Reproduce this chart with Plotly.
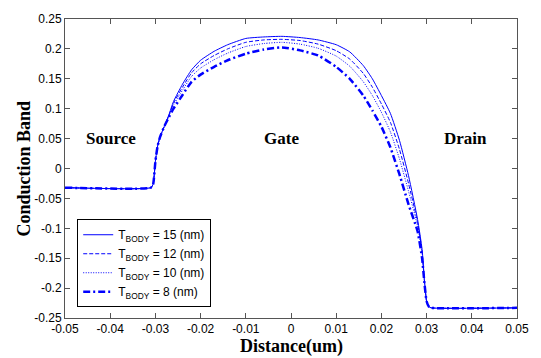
import plotly.graph_objects as go

# Shared x positions (um)
x_um = [-0.05, -0.031, -0.0305, -0.030, -0.0295, -0.029, -0.028, -0.027, -0.026,
        -0.024, -0.022, -0.020, -0.017, -0.014, -0.010, -0.006, -0.002, 0.002,
        0.006, 0.010, 0.013, 0.016, 0.018, 0.020, 0.022, 0.024, 0.026, 0.028,
        0.029, 0.0295, 0.030, 0.0305, 0.031, 0.05]

cb_15nm = [-0.032, -0.032, -0.026, 0.012, 0.038, 0.052, 0.071, 0.090, 0.112,
           0.141, 0.165, 0.181, 0.196, 0.207, 0.2175, 0.220, 0.221, 0.219,
           0.215, 0.207, 0.195, 0.172, 0.150, 0.122, 0.092, 0.047, -0.012, -0.085,
           -0.135, -0.185, -0.222, -0.231, -0.233, -0.233]

cb_12nm = [-0.032, -0.032, -0.026, 0.012, 0.038, 0.052, 0.071, 0.089, 0.109,
           0.136, 0.160, 0.175, 0.189, 0.200, 0.211, 0.215, 0.216, 0.214,
           0.208, 0.197, 0.183, 0.159, 0.136, 0.108, 0.077, 0.032, -0.025, -0.090,
           -0.139, -0.186, -0.222, -0.231, -0.233, -0.233]

cb_10nm = [-0.032, -0.032, -0.026, 0.012, 0.038, 0.052, 0.071, 0.088, 0.106,
           0.131, 0.154, 0.168, 0.182, 0.193, 0.204, 0.209, 0.211, 0.208,
           0.201, 0.188, 0.171, 0.145, 0.122, 0.094, 0.061, 0.016, -0.038, -0.096,
           -0.143, -0.188, -0.222, -0.231, -0.233, -0.233]

cb_8nm = [-0.032, -0.032, -0.026, 0.012, 0.038, 0.052, 0.071, 0.086, 0.100,
          0.123, 0.145, 0.157, 0.170, 0.181, 0.192, 0.199, 0.2025, 0.1975,
          0.189, 0.170, 0.150, 0.122, 0.097, 0.070, 0.035, -0.010, -0.060, -0.105,
          -0.150, -0.190, -0.222, -0.231, -0.233, -0.233]

series_names = ["T<sub>BODY</sub> = 15 (nm)", "T<sub>BODY</sub> = 12 (nm)",
                "T<sub>BODY</sub> = 10 (nm)", "T<sub>BODY</sub> = 8 (nm)"]

x_tickvals = [-0.05, -0.04, -0.03, -0.02, -0.01, 0, 0.01, 0.02, 0.03, 0.04, 0.05]
x_ticktext = ["-0.05", "-0.04", "-0.03", "-0.02", "-0.01", "0", "0.01", "0.02", "0.03", "0.04", "0.05"]
y_tickvals = [-0.25, -0.2, -0.15, -0.1, -0.05, 0, 0.05, 0.1, 0.15, 0.2, 0.25]
y_ticktext = ["-0.25", "-0.2", "-0.15", "-0.1", "-0.05", "0", "0.05", "0.1", "0.15", "0.2", "0.25"]

region_labels = ["Source", "Gate", "Drain"]
region_x = [-0.0399, -0.0022, 0.0386]
region_y = [0.050, 0.050, 0.050]

x_title = "Distance(um)"
y_title = "Conduction Band"

blue = "rgb(0,0,255)"
styles = [
    dict(width=1.0, dash="solid"),
    dict(width=1.0, dash="4px,2px"),
    dict(width=1.0, dash="1px,1.5px"),
    dict(width=2.5, dash="7px,3px,2px,3px"),
]

fig = go.Figure()
for name, ys, st in zip(series_names, [cb_15nm, cb_12nm, cb_10nm, cb_8nm], styles):
    fig.add_trace(go.Scatter(x=x_um, y=ys, mode="lines", name=name,
                             line=dict(color=blue, width=st["width"], dash=st["dash"],
                                       shape="spline", smoothing=0.5)))

for t, xx, yy in zip(region_labels, region_x, region_y):
    fig.add_annotation(x=xx, y=yy, text="<b>" + t + "</b>", showarrow=False,
                       font=dict(family="Liberation Serif", size=17, color="black"))

title_font = dict(family="Liberation Serif", size=18, color="black")
fig.add_annotation(xref="paper", yref="paper", x=0.5, y=0, yanchor="top",
                   yshift=-17, borderpad=0, text="<b>" + x_title + "</b>",
                   showarrow=False, font=title_font)
fig.add_annotation(xref="paper", yref="paper", x=0, y=0.5, xanchor="center",
                   xshift=-42, textangle=-90, borderpad=0, text="<b>" + y_title + "</b>",
                   showarrow=False, font=title_font)

axis_common = dict(showline=True, mirror="ticks", linecolor="#555555", linewidth=1,
                   ticks="inside", ticklen=5, tickcolor="#555555", showgrid=False,
                   zeroline=False, tickfont=dict(family="Liberation Sans", size=12, color="black"))

fig.update_xaxes(range=[-0.05, 0.05], tickvals=x_tickvals, ticktext=x_ticktext, **axis_common)
fig.update_yaxes(range=[-0.25, 0.25], tickvals=y_tickvals, ticktext=y_ticktext, **axis_common)

fig.update_layout(
    width=541, height=358,
    margin=dict(l=64.5, r=17.5, t=15, b=40),
    plot_bgcolor="white", paper_bgcolor="white",
    showlegend=True,
    legend=dict(x=0.027, y=0.036, xanchor="left", yanchor="bottom",
                bordercolor="black", borderwidth=1, bgcolor="white",
                font=dict(family="Liberation Sans", size=12, color="black"),
                tracegroupgap=0, itemwidth=30),
)

fig.write_html("out.html", config={"displayModeBar": False},
               post_script="document.body.style.margin='0';document.body.style.overflow='hidden';")
